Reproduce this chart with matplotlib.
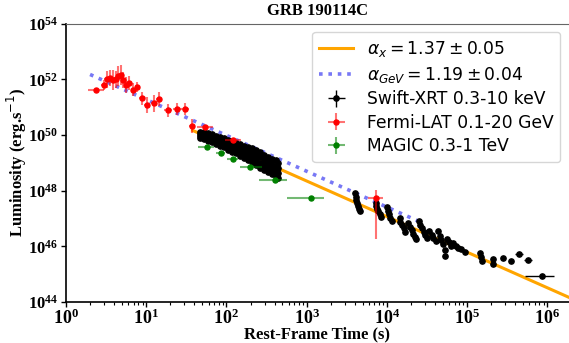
import numpy as np
import matplotlib
matplotlib.use("Agg")
import matplotlib.pyplot as plt
from matplotlib.ticker import FixedLocator, FuncFormatter, LogLocator, NullLocator

plt.rcParams.update({
    "mathtext.fontset": "custom",
    "mathtext.rm": "DejaVu Sans",
    "mathtext.it": "DejaVu Sans:italic",
    "mathtext.bf": "Liberation Serif:bold",
})

# --- data (log10 values) ----------------------------------------------------
# power-law fits, drawn as straight segments in log-log space
fit_x_logt = [1.58, 6.30]
fit_x_logL = [50.16, 44.13]
fit_gev_logt = [0.30, 4.45]
fit_gev_logL = [52.17, 46.83]

# Swift-XRT 0.3-10 keV
xrt_logt = [
    1.67, 1.67, 1.67, 1.67, 1.72, 1.72, 1.72, 1.72, 1.77, 1.77, 1.77, 1.77,
    1.82, 1.82, 1.82, 1.82, 1.87, 1.87, 1.87, 1.87, 1.92, 1.92, 1.92, 1.92,
    1.97, 1.97, 1.97, 1.97, 2.02, 2.02, 2.02, 2.02, 2.07, 2.07, 2.07, 2.07,
    2.12, 2.12, 2.12, 2.12, 2.17, 2.17, 2.17, 2.17, 2.22, 2.22, 2.22, 2.22,
    2.27, 2.27, 2.27, 2.27, 2.32, 2.32, 2.32, 2.32, 2.37, 2.37, 2.37, 2.37,
    2.42, 2.42, 2.42, 2.42, 2.47, 2.47, 2.47, 2.47, 2.52, 2.52, 2.52, 2.52,
    2.57, 2.57, 2.57, 2.57, 2.62, 2.62, 2.62, 2.62, 2.64, 2.64, 2.64, 2.64,
    3.60, 3.61, 3.62, 3.63, 3.64, 3.65, 3.66,
    3.86, 3.87, 3.88, 3.89, 3.91, 3.93,
    4.00, 4.01, 4.03, 4.04, 4.06,
    4.16, 4.17, 4.19, 4.21, 4.23,
    4.27, 4.29, 4.31, 4.33, 4.35, 4.37,
    4.40, 4.42, 4.44, 4.46, 4.48, 4.50,
    4.53, 4.56, 4.58, 4.61,
    4.64, 4.66, 4.68, 4.70,
    4.72, 4.72,
    4.75, 4.77, 4.80,
    4.83, 4.86, 4.89, 4.92,
    4.98, 5.16, 5.17, 5.19, 5.32, 5.32,
    5.45, 5.55, 5.65, 5.76, 5.94,
]
xrt_logL = [
    50.09, 50.02, 49.95, 49.88, 50.09, 50.01, 49.92, 49.84, 50.06, 49.98, 49.88, 49.79,
    50.02, 49.94, 49.84, 49.74, 49.95, 49.87, 49.77, 49.66, 49.91, 49.82, 49.72, 49.59,
    49.88, 49.79, 49.67, 49.56, 49.81, 49.70, 49.58, 49.45, 49.77, 49.66, 49.52, 49.38,
    49.70, 49.59, 49.46, 49.34, 49.66, 49.54, 49.38, 49.23, 49.59, 49.47, 49.31, 49.16,
    49.56, 49.42, 49.25, 49.09, 49.52, 49.37, 49.19, 49.02, 49.45, 49.29, 49.10, 48.91,
    49.38, 49.20, 49.00, 48.80, 49.27, 49.10, 48.91, 48.73, 49.20, 49.03, 48.84, 48.66,
    49.13, 48.96, 48.77, 48.59, 49.09, 48.90, 48.70, 48.52, 48.98, 48.80, 48.62, 48.44,
    47.90, 47.78, 47.66, 47.55, 47.44, 47.33, 47.25,
    47.55, 47.45, 47.35, 47.26, 47.15, 47.07,
    47.40, 47.28, 47.15, 47.02, 46.90,
    47.00, 46.88, 46.76, 46.64, 46.53,
    46.85, 46.70, 46.58, 46.45, 46.33, 46.25,
    46.92, 46.78, 46.65, 46.52, 46.40, 46.30,
    46.56, 46.42, 46.30, 46.18,
    46.55, 46.38, 46.22, 46.08,
    45.85, 45.65,
    46.28, 46.15, 46.02,
    46.12, 46.02, 45.95, 45.90,
    45.79, 45.76, 45.61, 45.47, 45.54, 45.36,
    45.58, 45.47, 45.72, 45.51, 44.93,
]
xrt_late_logt = [5.65, 5.76, 5.94]      # points with visible time bins
xrt_late_dlo = [0.05, 0.05, 0.22]
xrt_late_dhi = [0.05, 0.05, 0.14]

# Fermi-LAT 0.1-20 GeV
lat_logt = [0.37, 0.47, 0.51, 0.55, 0.59, 0.62, 0.65, 0.69, 0.71, 0.75, 0.79, 0.84,
            0.89, 0.95, 1.01, 1.10, 1.16, 1.27, 1.38, 1.48, 1.57, 1.73, 2.08, 3.86]
lat_logL = [51.60, 51.78, 51.99, 52.03, 51.96, 51.99, 52.10, 52.14, 51.96, 51.78, 51.85, 51.63,
            51.71, 51.31, 51.06, 51.13, 51.28, 50.88, 50.92, 50.92, 50.31, 50.27, 49.81, 47.73]
lat_dlogt = [0.10, 0.03, 0.03, 0.03, 0.03, 0.03, 0.03, 0.03, 0.03, 0.03, 0.03, 0.03,
             0.03, 0.04, 0.04, 0.04, 0.04, 0.05, 0.05, 0.05, 0.04, 0.10, 0.10, 0.09]
lat_dlo = [0.07, 0.18, 0.29, 0.29, 0.36, 0.29, 0.36, 0.36, 0.29, 0.29, 0.25, 0.25,
           0.18, 0.22, 0.29, 0.29, 0.25, 0.22, 0.22, 0.22, 0.25, 0.10, 0.07, 1.47]
lat_dhi = [0.07, 0.18, 0.29, 0.29, 0.36, 0.29, 0.36, 0.36, 0.29, 0.29, 0.25, 0.25,
           0.18, 0.22, 0.29, 0.29, 0.25, 0.22, 0.22, 0.22, 0.25, 0.10, 0.07, 0.29]

# MAGIC 0.3-1 TeV
magic_logt = [1.76, 1.93, 2.08, 2.29, 2.61, 3.05]
magic_logL = [49.56, 49.34, 49.13, 48.84, 48.37, 47.73]
magic_dlo = [0.11, 0.06, 0.07, 0.12, 0.20, 0.29]
magic_dhi = [0.09, 0.05, 0.07, 0.15, 0.15, 0.17]
magic_dlogL = [0.04, 0.04, 0.04, 0.04, 0.04, 0.04]


def log_err(logv, dlo, dhi):
    v = 10.0 ** np.asarray(logv)
    return v, [v - v * 10.0 ** -np.asarray(dlo), v * 10.0 ** np.asarray(dhi) - v]


fig = plt.figure(figsize=(5.69, 3.43), dpi=100)
ax = fig.add_axes([66 / 569, 41 / 343, 503 / 569, 278.5 / 343])

ax.plot(10.0 ** np.array(fit_x_logt), 10.0 ** np.array(fit_x_logL), color="orange", lw=2.2,
        label=r"$\alpha_x = 1.37 \pm 0.05$", zorder=1)
ax.plot(10.0 ** np.array(fit_gev_logt), 10.0 ** np.array(fit_gev_logL), color="#7878f5", lw=2.6,
        ls=(0, (1, 1.6)), label=r"$\alpha_{GeV} = 1.19 \pm 0.04$", zorder=1)

# Swift-XRT
t = 10.0 ** np.array(xrt_logt)
L = 10.0 ** np.array(xrt_logL)
xerr = np.vstack([t - t * 10 ** -0.015, t * 10 ** 0.015 - t])
n_late = len(xrt_late_logt)
xerr[0, -n_late:] = t[-n_late:] - t[-n_late:] * 10.0 ** -np.array(xrt_late_dlo)
xerr[1, -n_late:] = t[-n_late:] * 10.0 ** np.array(xrt_late_dhi) - t[-n_late:]
yerr = np.vstack([L - L * 10 ** -0.05, L * 10 ** 0.05 - L])
ax.errorbar(t, L, xerr=xerr, yerr=yerr, fmt="o", ms=3.8, color="black", ecolor="black",
            elinewidth=1, capsize=0, label="Swift-XRT 0.3-10 keV", zorder=2)

# Fermi-LAT
t, xe = log_err(lat_logt, lat_dlogt, lat_dlogt)
L, ye = log_err(lat_logL, lat_dlo, lat_dhi)
ax.errorbar(t, L, xerr=xe, yerr=ye, fmt="o", ms=3.6, color="red", ecolor=(1, 0, 0, 0.55),
            elinewidth=1.5, capsize=0, label="Fermi-LAT 0.1-20 GeV", zorder=3)

# MAGIC
t, xe = log_err(magic_logt, magic_dlo, magic_dhi)
L, ye = log_err(magic_logL, magic_dlogL, magic_dlogL)
ax.errorbar(t, L, xerr=xe, yerr=ye, fmt="o", ms=3.6, color="green", ecolor=(0, 0.5, 0, 0.55),
            elinewidth=1.5, capsize=0, label="MAGIC 0.3-1 TeV", zorder=3)

ax.set_xscale("log")
ax.set_yscale("log")
ax.set_xlim(1, 1.87e6)
ax.set_ylim(1e44, 1e54)

ax.xaxis.set_major_locator(FixedLocator([10.0 ** k for k in range(0, 7)]))
ax.xaxis.set_minor_locator(LogLocator(base=10, subs=np.arange(2, 10), numticks=20))
ax.yaxis.set_major_locator(FixedLocator([10.0 ** k for k in range(44, 55, 2)]))
ax.yaxis.set_minor_locator(NullLocator())
fmt = FuncFormatter(lambda v, p: r"$\mathbf{10^{%d}}$" % round(np.log10(v)))
ax.xaxis.set_major_formatter(fmt)
ax.yaxis.set_major_formatter(fmt)
ax.tick_params(which="major", labelsize=12, length=3.5, width=1, pad=2)
ax.tick_params(axis="x", which="major", labelsize=13, pad=1)
ax.tick_params(which="minor", length=2, width=0.8)

ax.spines["right"].set_visible(False)
ax.spines["top"].set_color("0.4")
for s in ("left", "bottom"):
    ax.spines[s].set_color("black")
    ax.spines[s].set_linewidth(1.2)

serif = {"family": "Liberation Serif", "weight": "bold"}
ax.set_xlabel("Rest-Frame Time (s)", fontdict=serif, fontsize=12)
ax.set_ylabel(r"Luminosity (erg.s$^{-1}$)", fontdict=serif, fontsize=12)
ax.xaxis.set_label_coords(0.5, -0.088)
ax.yaxis.set_label_coords(-0.073, 0.5)
ax.set_title("GRB 190114C", fontdict=serif, fontsize=12, pad=6)

ax.legend(loc="upper right", fontsize=12.3, labelspacing=0.33, borderaxespad=0.5,
          handletextpad=0.8, framealpha=0.8)

fig.savefig("out.png", dpi=100)
